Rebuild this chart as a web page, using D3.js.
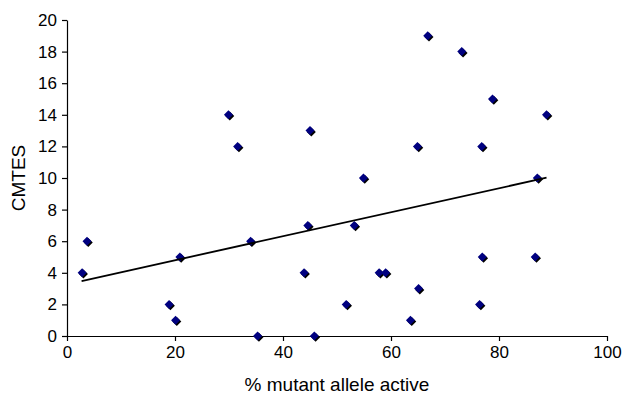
<!DOCTYPE html>
<html>
<head>
<meta charset="utf-8">
<script src="https://cdn.jsdelivr.net/npm/d3@7"></script>
<style>
  body { margin: 0; background: #fff; }
  text { font-family: "Liberation Sans", Arial, sans-serif; fill: #000; }
</style>
</head>
<body>
<svg id="chart" width="625" height="395"></svg>
<script>
// values
const mutantActive = [2.8, 3.7, 18.9, 20.1, 20.9, 29.9, 31.6, 34.0, 35.3, 43.9, 44.6, 45.0, 45.8, 51.7, 53.2,
  54.9, 57.8, 59.0, 63.6, 64.9, 65.1, 66.8, 73.1, 76.4, 76.8, 76.9, 78.8, 86.7, 87.1, 88.8];
const cmtes = [4, 6, 2, 1, 5, 14, 12, 6, 0, 4, 7, 13, 0, 2, 7,
  10, 4, 4, 1, 12, 3, 19, 18, 2, 12, 5, 15, 5, 10, 14];
// linear trend line endpoints
const trendX = [2.7, 88.8];
const trendY = [3.48, 10.02];
const xTicks = [0, 20, 40, 60, 80, 100];
const yTicks = [0, 2, 4, 6, 8, 10, 12, 14, 16, 18, 20];

const margin = { left: 67, right: 18, top: 20, bottom: 59 };
const width = 625, height = 395;
const svg = d3.select('#chart');

const x = d3.scaleLinear().domain([0, 100]).range([margin.left, width - margin.right]);
const y = d3.scaleLinear().domain([0, 20]).range([height - margin.bottom, margin.top]);

/// axes
const yAxis = svg.append('g').attr('transform', `translate(${margin.left},0)`)
  .call(d3.axisLeft(y).tickValues(yTicks).tickSize(5).tickPadding(5).tickSizeOuter(0));
const xAxis = svg.append('g').attr('transform', `translate(0,${height - margin.bottom})`)
  .call(d3.axisBottom(x).tickValues(xTicks).tickSize(5).tickPadding(5).tickSizeOuter(0));
[xAxis, yAxis].forEach(a => {
  a.selectAll('text').style('font-size', '17px').attr('font-family', null);
  a.selectAll('path, line').attr('stroke', '#000').attr('stroke-width', 1.2);
});

/// axis titles
svg.append('text').attr('x', (x(0) + x(100)) / 2).attr('y', 391)
  .attr('text-anchor', 'middle').style('font-size', '19px').text('% mutant allele active');
svg.append('text').attr('transform', `translate(25,${y(10)}) rotate(-90)`)
  .attr('text-anchor', 'middle').style('font-size', '19px').text('CMTES');

/// points
const pts = mutantActive.map((v, i) => ({ x: v, y: cmtes[i] }));
const diamond = 'M0,-4.5L4.5,0L0,4.5L-4.5,0Z';
const g = svg.append('g');
g.selectAll('path.shadow').data(pts).enter().append('path')
  .attr('class', 'shadow')
  .attr('d', diamond)
  .attr('transform', d => `translate(${x(d.x) + 1.3},${y(d.y) + 1.3})`)
  .attr('fill', '#000');
g.selectAll('path.pt').data(pts).enter().append('path')
  .attr('class', 'pt')
  .attr('d', diamond)
  .attr('transform', d => `translate(${x(d.x)},${y(d.y)})`)
  .attr('fill', '#000080');

/// trend line
svg.append('line')
  .attr('x1', x(trendX[0])).attr('y1', y(trendY[0]))
  .attr('x2', x(trendX[1])).attr('y2', y(trendY[1]))
  .attr('stroke', '#000').attr('stroke-width', 1.8);
</script>
</body>
</html>
